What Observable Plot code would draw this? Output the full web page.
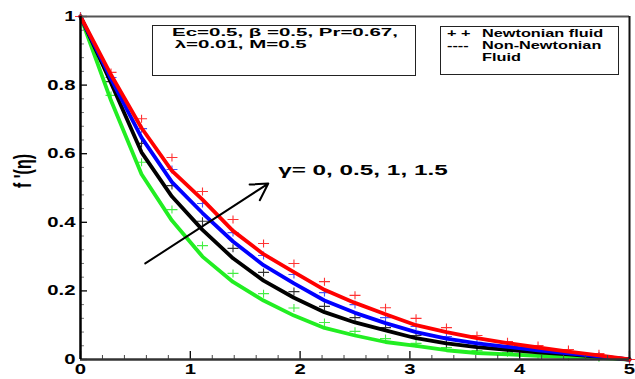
<!DOCTYPE html>
<html><head><meta charset="utf-8">
<script src="https://cdn.jsdelivr.net/npm/d3@7"></script>
<script src="https://cdn.jsdelivr.net/npm/@observablehq/plot@0.6"></script>
<style>
body{margin:0;background:#fff;font-family:"Liberation Sans",Arial,sans-serif;}
#wrap{position:relative;width:635px;height:379px;overflow:hidden;}
.box{position:absolute;border:1px solid #222;background:#fff;box-sizing:border-box;}
.ln{position:absolute;white-space:pre;font-weight:bold;transform-origin:0 50%;color:#000;}
</style></head><body><div id="wrap"></div>
<script>
// η grid (knots shared by lines and Newtonian markers)
const eta = [0, 0.278, 0.556, 0.833, 1.111, 1.389, 1.667, 1.944, 2.222, 2.5, 2.778, 3.056, 3.333, 3.611, 3.889, 4.167, 4.444, 4.722, 5];

// Non-Newtonian fluid (solid lines)
const lineG0   = [1, 0.755, 0.540, 0.405, 0.300, 0.226, 0.172, 0.128, 0.092, 0.070, 0.051, 0.040, 0.027, 0.019, 0.015, 0.011, 0.008, 0.005, 0];
const lineG05  = [1, 0.806, 0.604, 0.475, 0.378, 0.295, 0.230, 0.180, 0.138, 0.108, 0.085, 0.062, 0.047, 0.036, 0.028, 0.021, 0.015, 0.008, 0];
const lineG1   = [1, 0.818, 0.647, 0.517, 0.427, 0.344, 0.275, 0.222, 0.172, 0.136, 0.106, 0.080, 0.061, 0.047, 0.037, 0.027, 0.018, 0.009, 0];
const lineG15  = [1, 0.830, 0.675, 0.550, 0.466, 0.375, 0.307, 0.255, 0.203, 0.165, 0.132, 0.100, 0.080, 0.062, 0.048, 0.035, 0.023, 0.012, 0];

// Newtonian fluid (+ markers)
const newtG0   = [1, 0.770, 0.575, 0.437, 0.332, 0.251, 0.192, 0.150, 0.108, 0.082, 0.061, 0.047, 0.035, 0.026, 0.020, 0.014, 0.009, 0.005, 0];
const newtG05  = [1, 0.810, 0.630, 0.507, 0.403, 0.324, 0.254, 0.198, 0.155, 0.122, 0.093, 0.070, 0.047, 0.035, 0.028, 0.021, 0.014, 0.008, 0];
const newtG1   = [1, 0.822, 0.673, 0.554, 0.455, 0.370, 0.303, 0.248, 0.195, 0.160, 0.122, 0.096, 0.067, 0.050, 0.040, 0.030, 0.020, 0.010, 0];
const newtG15  = [1, 0.837, 0.702, 0.589, 0.490, 0.408, 0.338, 0.280, 0.227, 0.187, 0.151, 0.120, 0.093, 0.070, 0.052, 0.041, 0.029, 0.017, 0];

const seriesNames  = ["γ=0", "γ=0.5", "γ=1", "γ=1.5"];
const seriesLines  = [lineG0, lineG05, lineG1, lineG15];
const seriesNewt   = [newtG0, newtG05, newtG1, newtG15];
const lineColors   = ["#22ee22", "#000000", "#0000ff", "#ff0000"];
const markColors   = ["#44ee44", "#333333", "#4455ff", "#ff3333"];

// ticks
const xMajor = [0, 1, 2, 3, 4, 5];
const xMinor = [0.2,0.4,0.6,0.8,1.2,1.4,1.6,1.8,2.2,2.4,2.6,2.8,3.2,3.4,3.6,3.8,4.2,4.4,4.6,4.8];
const yMajor = [0, 0.2, 0.4, 0.6, 0.8, 1];
const yMinor = [0.04,0.08,0.12,0.16,0.24,0.28,0.32,0.36,0.44,0.48,0.52,0.56,0.64,0.68,0.72,0.76,0.84,0.88,0.92,0.96];

// annotations
const yTitle = "f '(η)";
const gammaArrow = [{x1: 0.59, y1: 0.28, x2: 1.71, y2: 0.513}];
const gammaText = "γ= 0, 0.5, 1, 1.5";
const gammaLabel = [{x: 1.80, y: 0.551, text: gammaText}];
const box1Lines = ["Ec=0.5, β =0.5, Pr=0.67,", " λ=0.01, M=0.5"];
const box2Sym = ["+ +", "----", ""];
const box2Text = ["Newtonian fluid", "Non-Newtonian", "Fluid"];

const plusSym = {draw(ctx) { ctx.moveTo(-5.5, 0); ctx.lineTo(5.5, 0); ctx.moveTo(0, -4); ctx.lineTo(0, 4); }};

const marks = [];
seriesNames.forEach((name, s) => {
  const pts = eta.map((x, i) => ({x, y: seriesNewt[s][i], name}));
  marks.push(Plot.dot(pts, {x: "x", y: "y", symbol: plusSym, fill: "none", stroke: markColors[s], strokeWidth: 1.1}));
});
seriesNames.forEach((name, s) => {
  const pts = eta.map((x, i) => ({x, y: seriesLines[s][i], name}));
  marks.push(Plot.line(pts, {x: "x", y: "y", stroke: lineColors[s], strokeWidth: 3.8}));
});

const font = "Liberation Sans, Arial, sans-serif";
const chart = Plot.plot({
  width: 635, height: 379,
  marginLeft: 80, marginRight: 6, marginTop: 16, marginBottom: 20,
  x: {domain: [0, 5]},
  y: {domain: [0, 1]},
  style: {fontFamily: font, fontWeight: "bold", background: "transparent", overflow: "visible"},
  marks: [
    ...marks,
    Plot.tickY(yMinor, {y: d => d, insetRight: 545, stroke: "#777", strokeWidth: 1}),
    Plot.tickY(yMajor, {y: d => d, insetRight: 542, stroke: "#000", strokeWidth: 1.3}),
    Plot.tickX(xMinor, {x: d => d, insetTop: 339, stroke: "#444", strokeWidth: 1}),
    Plot.tickX(xMajor, {x: d => d, insetTop: 335, stroke: "#000", strokeWidth: 1.3}),
    Plot.ruleY([1], {stroke: "#555", strokeWidth: 2}),
    Plot.ruleX([5], {stroke: "#111", strokeWidth: 2}),
    Plot.ruleY([0], {stroke: "#333", strokeWidth: 2.5}),
    Plot.ruleX([0], {stroke: "#000", strokeWidth: 2.5}),
    Plot.axisY({ticks: yMajor, tickSize: 0, tickPadding: 5, fontSize: 14, fontWeight: "bold", label: null, tickFormat: d => String(d)}),
    Plot.axisX({ticks: xMajor, tickSize: 0, tickPadding: 5, fontSize: 14, fontWeight: "bold", label: null, tickFormat: d => String(d)}),
    Plot.arrow(gammaArrow, {x1: "x1", y1: "y1", x2: "x2", y2: "y2", stroke: "#000", strokeWidth: 2, headLength: 14}),
    Plot.text(gammaLabel, {x: "x", y: "y", text: "text", textAnchor: "start", fontSize: 15, fontWeight: "bold", fill: "#000"}),
    Plot.text([yTitle], {text: d => d, frameAnchor: "left", dx: -57, rotate: -90, fontSize: 16, fontWeight: "bold", fill: "#000"})
  ]
});

// the reference glyphs are horizontally stretched
chart.querySelectorAll("text").forEach(t => {
  let tr = t.getAttribute("transform");
  if (!tr) {
    const x = t.getAttribute("x") || 0, y = t.getAttribute("y") || 0;
    t.removeAttribute("x"); t.removeAttribute("y");
    tr = `translate(${x},${y})`;
  }
  let sc;
  if (tr.includes("rotate")) sc = " scale(1,1.5)";
  else if (t.textContent === gammaText) sc = " scale(1.62,1)";
  else sc = " scale(1.45,1)";
  t.setAttribute("transform", tr + sc);
});

const wrap = document.getElementById("wrap");
wrap.appendChild(chart);
chart.style.position = "absolute"; chart.style.left = "0"; chart.style.top = "0";

function addBox(left, top, w, h) {
  const b = document.createElement("div");
  b.className = "box";
  Object.assign(b.style, {left: left + "px", top: top + "px", width: w + "px", height: h + "px"});
  wrap.appendChild(b);
  return b;
}
function addLine(parent, text, left, top, size, sx) {
  const s = document.createElement("div");
  s.className = "ln";
  s.textContent = text;
  Object.assign(s.style, {left: left + "px", top: top + "px", fontSize: size + "px", lineHeight: size + "px", transform: `scaleX(${sx})`});
  parent.appendChild(s);
}
const b1 = addBox(152, 25, 264, 51);
box1Lines.forEach((t, i) => addLine(b1, t, i === 0 ? 19 : 16, 1 + i * 12, 11.5, 1.78));
const b2 = addBox(440, 26, 179, 49);
box2Text.forEach((t, i) => {
  addLine(b2, box2Sym[i], 6, 1 + i * 12, 10.5, 1.55);
  addLine(b2, t, 41, 1 + i * 12, 10.5, 1.55);
});
</script>
</body></html>
